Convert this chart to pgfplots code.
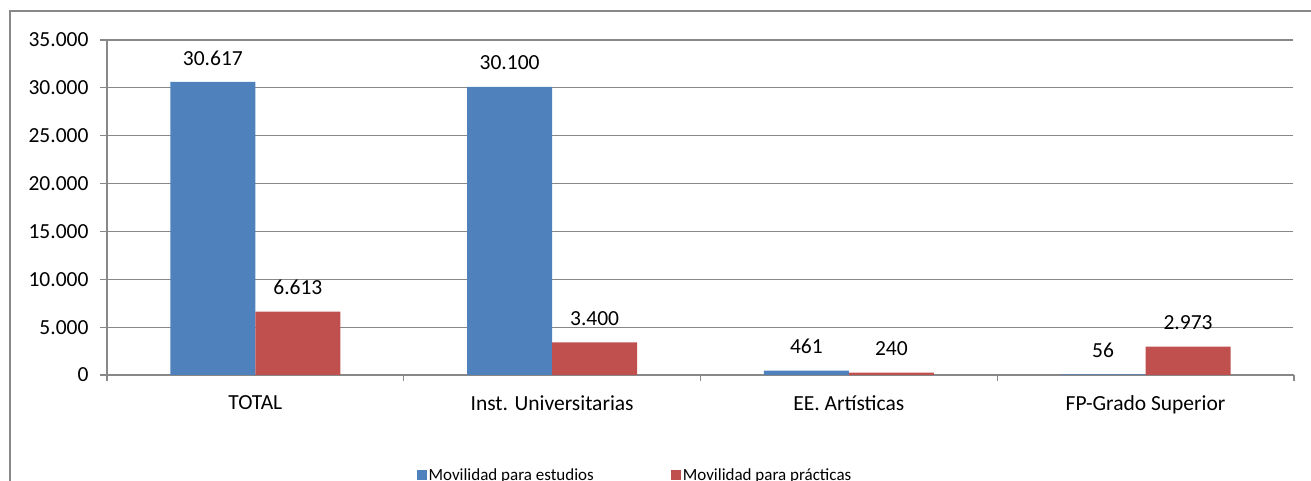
\documentclass[border=0pt]{standalone}
\usepackage{pgfplots}
\pgfplotsset{compat=1.18}
\usepackage{fontspec}
\setmainfont{Carlito}
\definecolor{barblue}{HTML}{4F81BD}
\definecolor{barred}{HTML}{C0504D}
\definecolor{gridgray}{HTML}{888888}
\begin{document}
\begin{tikzpicture}
\useasboundingbox (0pt,0pt) rectangle (1311pt,481pt);
\draw[gridgray, line width=1.5pt] (10pt,-5pt) -- (10pt,470pt) -- (1320pt,470pt);
\begin{axis}[
  at={(107pt,106pt)}, anchor=south west,
  scale only axis, width=1187pt, height=335pt,
  ybar=0pt, bar width=85pt,
  ymin=0, ymax=35000, ytick={0,5000,...,35000},
  scaled y ticks=false,
  xmin=-0.5, xmax=3.5,
  xtick={0,1,2,3},
  xticklabels={TOTAL, Inst. Universitarias, EE. Artísticas, FP-Grado Superior},
  extra x ticks={-0.5,0.5,1.5,2.5,3.5},
  extra x tick labels={},
  extra x tick style={major tick length=6pt,
     every major x tick/.append style={draw=gridgray}},
  every major x tick/.append style={draw=none},
  tick align=outside,
  major tick length=7pt,
  tick style={gridgray, line width=1.2pt},
  axis lines*=left,
  xtick pos=left, ytick pos=left,
  axis line style={gridgray, line width=1.2pt, -},
  ymajorgrids, major grid style={gridgray, line width=1.2pt},
  /pgf/number format/1000 sep={.},
  /pgf/number format/assume math mode=true,
  ticklabel style={font=\fontsize{21.5}{25}\selectfont, text=black},
  yticklabel style={xshift=-8pt},
  xticklabel style={yshift=-10pt},
  nodes near coords,
  every node near coord/.append style={font=\fontsize{21.5}{25}\selectfont, text=black, anchor=center, yshift=24pt},
  legend style={at={(0.4448,-0.2985)}, anchor=center, draw=none, legend columns=2,
    font=\fontsize{17}{20}\selectfont,
    /tikz/every even column/.append style={column sep=75pt}},
  legend image code/.code={\fill[#1] (0pt,-5pt) rectangle (10pt,5pt);},
]
\addplot[fill=barblue, draw=none]
  coordinates {(0,30617) (1,30100) (2,461) (3,56)};
\addlegendentry{Movilidad para estudios}
\addplot[fill=barred, draw=none]
  coordinates {(0,6613) (1,3400) (2,240) (3,2973)};
\addlegendentry{Movilidad para prácticas}
\end{axis}
\fill[white] (1293.3pt,107pt) rectangle (1312pt,446pt);
\end{tikzpicture}
\end{document}
